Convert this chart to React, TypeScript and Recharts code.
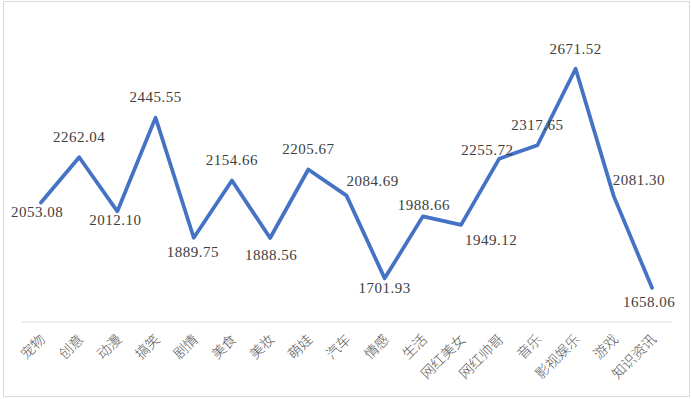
import React from 'react';
import { LineChart, Line, XAxis, YAxis, LabelList } from 'recharts';

const categories = [
  '宠物', '创意', '动漫', '搞笑', '剧情', '美食', '美妆', '萌娃', '汽车',
  '情感', '生活', '网红美女', '网红帅哥', '音乐', '影视娱乐', '游戏', '知识资讯',
];

const values = [
  2053.08, 2262.04, 2012.1, 2445.55, 1889.75, 2154.66, 1888.56, 2205.67, 2084.69,
  1701.93, 1988.66, 1949.12, 2255.72, 2317.65, 2671.52, 2081.3, 1658.06,
];

// where each data label sits relative to its point (Excel-style placement)
const labelOffsets: [number, number][] = [
  [-4, 10], [0, -20], [-2, 9], [0, -21], [-1, 14], [0, -20], [1, 17], [0, -20], [26, -15],
  [0, 10], [1, -11], [30, 15], [-12, -9], [0, -20], [0, -20], [25, -16], [-3, 14],
];

const chartData = categories.map((name, i) => ({ name, value: values[i] }));

const AxisTick = (props: any) => {
  const { x, y, payload } = props;
  return (
    <text
      transform={`translate(${x + 1},${y + 6}) rotate(-45)`}
      textAnchor="end"
      dominantBaseline="central"
      fill="#595959"
      fontSize={14}
      fontWeight={300}
      fontFamily="'Noto Sans CJK SC', sans-serif"
    >
      {payload.value}
    </text>
  );
};

const ValueLabel = (props: any) => {
  const { x, y, value, index } = props;
  const [dx, dy] = labelOffsets[index] || [0, -20];
  return (
    <text
      x={x + dx}
      y={y + dy}
      textAnchor="middle"
      dominantBaseline="central"
      fill="#404040"
      fontSize={15}
      letterSpacing={0.5}
      fontFamily="'Liberation Serif', serif"
    >
      {Number(value).toFixed(2)}
    </text>
  );
};

export default function App() {
  return (
    <div style={{ position: 'relative', width: 691, height: 399, background: '#fff' }}>
      <style>{'body{margin:0}'}</style>
      <div
        style={{
          position: 'absolute',
          left: 3,
          top: 1,
          width: 685,
          height: 394,
          border: '1px solid #d9d9d9',
        }}
      />
      <div style={{ position: 'absolute', left: 0, top: 0 }}>
        <LineChart
          width={691}
          height={399}
          data={chartData}
          margin={{ top: 41, right: 19, left: 22, bottom: 0 }}
        >
          <XAxis
            dataKey="name"
            interval={0}
            height={77}
            tickLine={false}
            axisLine={{ stroke: '#d9d9d9' }}
            padding={{ left: 19, right: 20 }}
            tick={<AxisTick />}
          />
          <YAxis hide domain={[1500, 2800]} />
          <Line
            type="linear"
            dataKey="value"
            stroke="#4472C4"
            strokeWidth={3.75}
            strokeLinejoin="round"
            strokeLinecap="round"
            dot={false}
            isAnimationActive={false}
          >
            <LabelList dataKey="value" content={<ValueLabel />} />
          </Line>
        </LineChart>
      </div>
    </div>
  );
}
